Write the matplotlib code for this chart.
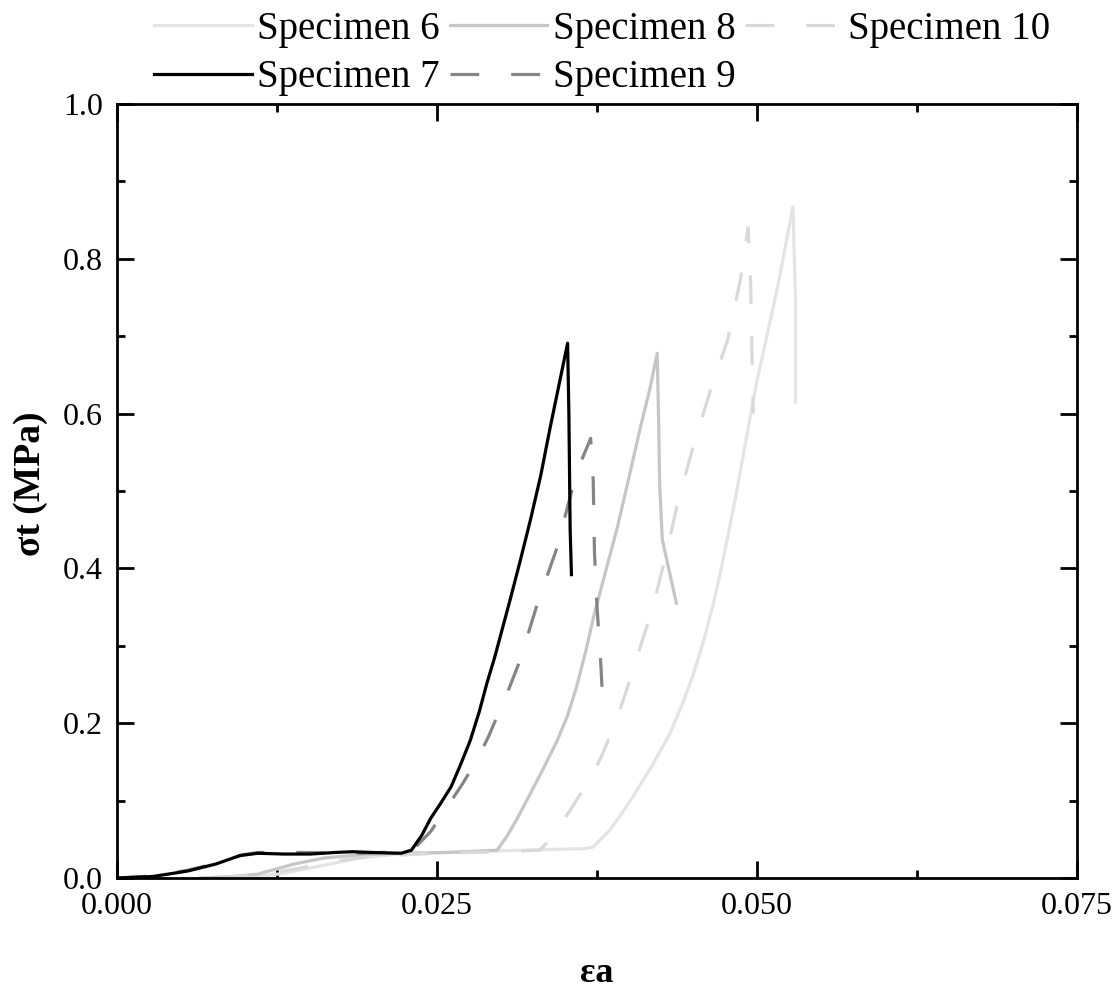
import matplotlib.pyplot as plt
from matplotlib.ticker import MultipleLocator

plt.rcParams['font.family'] = ['Liberation Serif', 'DejaVu Serif']

# data (strain, stress in MPa)
x6 = [0.0100, 0.0130, 0.0160, 0.0190, 0.0220, 0.0270, 0.0320, 0.0365, 0.0372, 0.0385,
      0.0395, 0.0403, 0.0418, 0.0432, 0.0441, 0.0450, 0.0458, 0.0466, 0.0472, 0.0477,
      0.0483, 0.0488, 0.0494, 0.0500, 0.0507, 0.0513, 0.0518, 0.0522, 0.0528, 0.0530,
      0.0530]
y6 = [0.000, 0.006, 0.016, 0.026, 0.031, 0.034, 0.036, 0.038, 0.040, 0.062,
      0.085, 0.105, 0.145, 0.187, 0.222, 0.262, 0.305, 0.355, 0.400, 0.440,
      0.490, 0.535, 0.590, 0.643, 0.695, 0.740, 0.780, 0.815, 0.867, 0.750,
      0.615]

x7 = [0.0000, 0.0028, 0.0055, 0.0077, 0.0096, 0.0110, 0.0130, 0.0151, 0.0170, 0.0184,
      0.0200, 0.0222, 0.0230, 0.0238, 0.0245, 0.0253, 0.0261, 0.0268, 0.0276, 0.0283,
      0.0289, 0.0295, 0.0301, 0.0307, 0.0315, 0.0323, 0.0331, 0.0338, 0.0345, 0.0352,
      0.0353, 0.0354, 0.0355]
y7 = [0.000, 0.002, 0.009, 0.018, 0.029, 0.032, 0.031, 0.031, 0.033, 0.034,
      0.033, 0.032, 0.036, 0.055, 0.077, 0.097, 0.118, 0.145, 0.178, 0.215,
      0.252, 0.285, 0.322, 0.359, 0.410, 0.463, 0.520, 0.579, 0.635, 0.691,
      0.600, 0.450, 0.392]

x8 = [0.0065, 0.0090, 0.0110, 0.0138, 0.0162, 0.0190, 0.0220, 0.0260, 0.0297, 0.0305,
      0.0312, 0.0320, 0.0332, 0.0344, 0.0352, 0.0359, 0.0366, 0.0373, 0.0382, 0.0391,
      0.0400, 0.0409, 0.0416, 0.0422, 0.0423, 0.0424, 0.0426, 0.0437]
y8 = [0.000, 0.002, 0.005, 0.018, 0.026, 0.030, 0.032, 0.033, 0.036, 0.055,
      0.075, 0.100, 0.138, 0.178, 0.210, 0.247, 0.292, 0.342, 0.398, 0.454,
      0.518, 0.583, 0.630, 0.678, 0.600, 0.505, 0.437, 0.355]

x9 = [0.0000, 0.0030, 0.0055, 0.0080, 0.0098, 0.0110, 0.0150, 0.0190, 0.0222, 0.0232,
      0.0245, 0.0258, 0.0270, 0.0281, 0.0290, 0.0298, 0.0307, 0.0315, 0.0322, 0.0330,
      0.0337, 0.0344, 0.0350, 0.0356, 0.0363, 0.0370, 0.0372, 0.0373, 0.0375, 0.0378,
      0.0380]
y9 = [0.000, 0.003, 0.010, 0.020, 0.030, 0.033, 0.033, 0.032, 0.034, 0.038,
      0.060, 0.092, 0.122, 0.152, 0.182, 0.213, 0.248, 0.282, 0.320, 0.363,
      0.395, 0.428, 0.467, 0.505, 0.540, 0.568, 0.514, 0.420, 0.350, 0.275,
      0.210]

x10 = [0.0080, 0.0110, 0.0140, 0.0170, 0.0200, 0.0250, 0.0300, 0.0330, 0.0338, 0.0355,
       0.0372, 0.0380, 0.0388, 0.0396, 0.0403, 0.0410, 0.0418, 0.0428, 0.0438, 0.0450,
       0.0463, 0.0477, 0.0487, 0.0493, 0.0495, 0.0496, 0.0497]
y10 = [0.000, 0.004, 0.012, 0.022, 0.028, 0.032, 0.034, 0.036, 0.049, 0.090,
       0.135, 0.163, 0.196, 0.232, 0.269, 0.305, 0.346, 0.412, 0.484, 0.557,
       0.627, 0.695, 0.773, 0.840, 0.770, 0.680, 0.600]

fig = plt.figure(figsize=(11.19, 9.89), dpi=100)
ax = fig.add_axes([0.1046, 0.1122, 0.8579, 0.7826])

lw = 2.3
l6, = ax.plot(x6, y6, color='#e4e4e4', lw=lw, label='Specimen 6')
l8, = ax.plot(x8, y8, color='#c6c6c6', lw=lw, label='Specimen 8')
l10, = ax.plot(x10, y10, color='#d9d9d9', lw=lw, dashes=(9, 10), label='Specimen 10')
l9, = ax.plot(x9, y9, color='#858585', lw=lw, dashes=(9, 10), label='Specimen 9')
l7, = ax.plot(x7, y7, color='black', lw=lw, label='Specimen 7')

ax.set_xlim(0, 0.075)
ax.set_ylim(0, 1.0)
ax.xaxis.set_major_locator(MultipleLocator(0.025))
ax.xaxis.set_minor_locator(MultipleLocator(0.0125))
ax.yaxis.set_major_locator(MultipleLocator(0.2))
ax.yaxis.set_minor_locator(MultipleLocator(0.1))
ax.xaxis.set_major_formatter(lambda v, p: f'{v:.3f}')
ax.yaxis.set_major_formatter(lambda v, p: f'{v:.1f}')

ax.tick_params(which='both', direction='in', top=True, right=True, width=2, labelsize=23)
ax.tick_params(which='major', length=12, pad=10)
ax.tick_params(which='minor', length=6)
for s in ax.spines.values():
    s.set_linewidth(2)

ax.set_xlabel('εa', fontsize=26, fontweight='bold', labelpad=26)
ax.set_ylabel('σt (MPa)', fontsize=27, fontweight='bold')
ax.yaxis.set_label_coords(-0.072, 0.51)

fig.legend(handles=[l6, l7, l8, l9, l10], ncol=3, frameon=False, fontsize=28,
           loc='upper left', bbox_to_anchor=(0.124, 1.005), borderaxespad=0,
           handlelength=2.5, handletextpad=0.15, columnspacing=0.25,
           labelspacing=0.3)

fig.savefig('out.png', dpi=100)
